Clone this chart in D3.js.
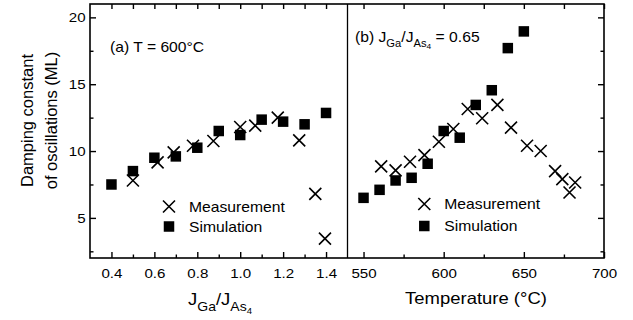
<!DOCTYPE html>
<html><head><meta charset="utf-8">
<script src="https://cdn.jsdelivr.net/npm/d3@7"></script>
<style>
body{margin:0;background:#fff}
svg{display:block}
text{font-family:"Liberation Sans",Arial,Helvetica,sans-serif;fill:#000}
</style>
</head><body>
<svg id="c" width="633" height="320"></svg>
<script>
// ---- Data: panel (a) T = 600°C ----
const ratioSim   = [0.4, 0.5, 0.6, 0.7, 0.8, 0.9, 1.0, 1.1, 1.2, 1.3, 1.4];
const dampSimA   = [7.5, 8.5, 9.5, 9.6, 10.25, 11.5, 11.2, 12.35, 12.2, 12.0, 12.85];
const ratioMeas  = [0.5, 0.615, 0.69, 0.78, 0.875, 1.0, 1.07, 1.175, 1.275, 1.35, 1.395];
const dampMeasA  = [7.8, 9.15, 9.9, 10.4, 10.75, 11.8, 11.9, 12.5, 10.8, 6.8, 3.45];
// ---- Data: panel (b) JGa/JAs4 = 0.65 ----
const tempSim    = [550, 560, 570, 580, 590, 600, 610, 620, 630, 640, 650];
const dampSimB   = [6.5, 7.1, 7.8, 8.0, 9.05, 11.5, 11.0, 13.45, 14.55, 17.7, 18.95];
const tempMeas   = [561, 570, 579, 588, 597, 606, 615, 624, 633.5, 642, 652, 660.5, 669.5, 674, 678.5, 682];
const dampMeasB  = [8.85, 8.55, 9.2, 9.7, 10.7, 11.65, 13.15, 12.45, 13.45, 11.75, 10.4, 10.0, 8.5, 7.9, 6.9, 7.65];
// ---- Tick values ----
const yMajor = [5, 10, 15, 20];
const yMinor = [2.5, 7.5, 12.5, 17.5];
const xAMajor = [0.4, 0.6, 0.8, 1.0, 1.2, 1.4];
const xAMinor = [0.5, 0.7, 0.9, 1.1, 1.3];
const xBMajor = [550, 600, 650, 700];
const xBMinor = [575, 625, 675];

const SX = 1.12; // horizontal stretch of the scanned figure's text
const svg = d3.select("#c");
const pTop = 4, pBottom = 258, pLeft = 90, pMid = 347.5, pRight = 604;

const y  = d3.scaleLinear().domain([2, 21]).range([pBottom, pTop]);
const xA = d3.scaleLinear().domain([0.3, 1.5]).range([pLeft, pMid]);
const xB = d3.scaleLinear().domain([540, 700]).range([pMid, pRight]);

function styleAxis(g, labelSize) {
  g.select(".domain").remove();
  g.selectAll(".tick line").attr("stroke", "#000").attr("stroke-width", 1.4);
  g.selectAll(".tick text").attr("font-size", labelSize || 13.5)
    .attr("font-family", '"Liberation Sans",Arial,Helvetica,sans-serif')
    .attr("fill", "#000").attr("transform", `scale(${SX},1)`);
}

function panelAxes(x, majors, minors, fmt) {
  svg.append("g").attr("transform", `translate(0,${pBottom})`)
    .call(d3.axisBottom(x).tickValues(majors).tickSize(-6).tickPadding(10.5).tickFormat(fmt))
    .call(g => styleAxis(g));
  svg.append("g").attr("transform", `translate(0,${pBottom})`)
    .call(d3.axisBottom(x).tickValues(minors).tickSize(-3.5).tickFormat(""))
    .call(g => styleAxis(g));
  svg.append("g").attr("transform", `translate(0,${pTop})`)
    .call(d3.axisTop(x).tickValues(majors.concat(minors)).tickSize(-5).tickFormat(""))
    .call(g => styleAxis(g));
}

panelAxes(xA, xAMajor, xAMinor, d3.format(".1f"));
panelAxes(xB, xBMajor, xBMinor, d3.format("d"));

svg.append("g").attr("transform", `translate(${pLeft},0)`)
  .call(d3.axisLeft(y).tickValues(yMajor).tickSize(-6).tickPadding(4).tickFormat(d3.format("d")))
  .call(g => styleAxis(g));
svg.append("g").attr("transform", `translate(${pLeft},0)`)
  .call(d3.axisLeft(y).tickValues(yMinor).tickSize(-3.5).tickFormat(""))
  .call(g => styleAxis(g));
svg.append("g").attr("transform", `translate(${pRight},0)`)
  .call(d3.axisRight(y).tickValues(yMajor).tickSize(-6).tickFormat(""))
  .call(g => styleAxis(g));
svg.append("g").attr("transform", `translate(${pRight},0)`)
  .call(d3.axisRight(y).tickValues(yMinor).tickSize(-3.5).tickFormat(""))
  .call(g => styleAxis(g));

svg.append("rect").attr("x", pLeft).attr("y", pTop).attr("width", pRight - pLeft).attr("height", pBottom - pTop)
  .attr("fill", "none").attr("stroke", "#000").attr("stroke-width", 1.6);
svg.append("line").attr("x1", pMid).attr("x2", pMid).attr("y1", pTop).attr("y2", pBottom)
  .attr("stroke", "#000").attr("stroke-width", 1.3);

const SQ = 10.5, CR = 6;
function squares(xs, ys, x) {
  svg.append("g").selectAll("rect").data(xs.map((d, i) => [d, ys[i]])).join("rect")
    .attr("x", d => x(d[0]) - SQ / 2).attr("y", d => y(d[1]) - SQ / 2)
    .attr("width", SQ).attr("height", SQ).attr("fill", "#000");
}
function crosses(xs, ys, x) {
  svg.append("g").selectAll("path").data(xs.map((d, i) => [d, ys[i]])).join("path")
    .attr("d", d => {
      const cx = x(d[0]), cy = y(d[1]);
      return `M${cx - CR},${cy - CR}L${cx + CR},${cy + CR}M${cx - CR},${cy + CR}L${cx + CR},${cy - CR}`;
    })
    .attr("stroke", "#000").attr("stroke-width", 1.6).attr("fill", "none");
}
crosses(ratioMeas, dampMeasA, xA);
squares(ratioSim, dampSimA, xA);
crosses(tempMeas, dampMeasB, xB);
squares(tempSim, dampSimB, xB);

function txt(x, yy, size, anchor) {
  return svg.append("text").attr("transform", `translate(${x},${yy}) scale(${SX},1)`)
    .attr("font-size", size).attr("text-anchor", anchor || "start");
}

function legend(lx, cyM, cyS) {
  svg.append("path")
    .attr("d", `M${lx - CR},${cyM - CR}L${lx + CR},${cyM + CR}M${lx - CR},${cyM + CR}L${lx + CR},${cyM - CR}`)
    .attr("stroke", "#000").attr("stroke-width", 1.6);
  svg.append("rect").attr("x", lx - SQ / 2).attr("y", cyS - SQ / 2).attr("width", SQ).attr("height", SQ).attr("fill", "#000");
  txt(lx + 20, cyM + 5, 14).text("Measurement");
  txt(lx + 20, cyS + 5, 14).text("Simulation");
}
legend(169, 206.5, 226.5);
legend(424.3, 204, 226);

txt(110, 52, 14).text("(a) T = 600°C");
const pb = txt(355, 42, 14);
pb.append("tspan").text("(b) J");
pb.append("tspan").attr("font-size", 10).attr("dy", 5).text("Ga");
pb.append("tspan").attr("font-size", 14).attr("dy", -5).text("/J");
pb.append("tspan").attr("font-size", 10).attr("dy", 5).text("As");
pb.append("tspan").attr("font-size", 7.5).attr("dy", 2.5).text("4");
pb.append("tspan").attr("font-size", 14).attr("dy", -7.5).text(" = 0.65");

const xt = txt(220, 305, 16.5, "middle");
xt.append("tspan").text("J");
xt.append("tspan").attr("font-size", 12.5).attr("dy", 6).text("Ga");
xt.append("tspan").attr("font-size", 16.5).attr("dy", -6).text("/J");
xt.append("tspan").attr("font-size", 12.5).attr("dy", 6).text("As");
xt.append("tspan").attr("font-size", 8.5).attr("dy", 3).text("4");

txt(476, 304, 16.5, "middle").text("Temperature (°C)");

svg.append("text").attr("transform", "translate(33,120.5) rotate(-90)")
  .attr("font-size", 16.5).attr("text-anchor", "middle").text("Damping constant");
svg.append("text").attr("transform", "translate(57,120.5) rotate(-90)")
  .attr("font-size", 16.5).attr("text-anchor", "middle").text("of oscillations (ML)");
</script>
</body></html>
